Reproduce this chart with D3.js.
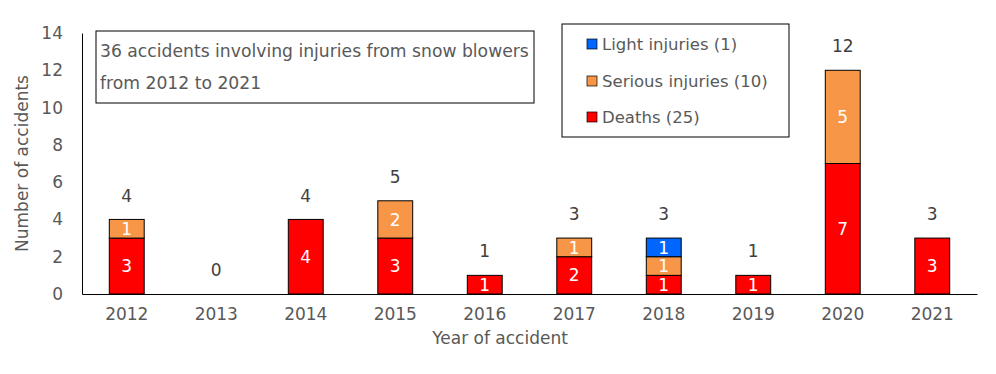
<!DOCTYPE html>
<html>
<head>
<meta charset="utf-8">
<script src="https://cdn.jsdelivr.net/npm/d3@7"></script>
<style>
  body { margin: 0; background: #fff; }
  svg text { font-family: "DejaVu Sans", Verdana, sans-serif; }
</style>
</head>
<body>
<div id="chart"></div>
<script>
var years = ["2012", "2013", "2014", "2015", "2016", "2017", "2018", "2019", "2020", "2021"];
var deaths = [3, 0, 4, 3, 1, 2, 1, 1, 7, 3];
var serious = [1, 0, 0, 2, 0, 1, 1, 0, 5, 0];
var light = [0, 0, 0, 0, 0, 0, 1, 0, 0, 0];
var yTicks = [0, 2, 4, 6, 8, 10, 12, 14];
var seriesNames = ["Deaths (25)", "Serious injuries (10)", "Light injuries (1)"];
var seriesColors = ["#ff0000", "#f79646", "#0066ff"];

var width = 996, height = 374;
var margin = { left: 82, right: 19, top: 33, bottom: 80 };
var fs = 17;

var svg = d3.select("#chart").append("svg")
  .attr("width", width)
  .attr("height", height);

var x = d3.scaleBand()
  .domain(years)
  .range([margin.left, width - margin.right])
  .paddingInner(0.61)
  .paddingOuter(0.305);

var y = d3.scaleLinear()
  .domain([0, 14])
  .range([height - margin.bottom, margin.top]);

var rows = years.map(function(yr, i) {
  return { year: yr, deaths: deaths[i], serious: serious[i], light: light[i] };
});
var stack = d3.stack().keys(["deaths", "serious", "light"])(rows);

// bars
var layers = svg.selectAll(".layer")
  .data(stack)
  .enter().append("g")
  .attr("fill", function(d, i) { return seriesColors[i]; });

layers.selectAll("rect")
  .data(function(d) { return d.filter(function(p) { return p[1] - p[0] > 0; }); })
  .enter().append("rect")
  .attr("x", function(d) { return x(d.data.year); })
  .attr("y", function(d) { return y(d[1]); })
  .attr("width", x.bandwidth())
  .attr("height", function(d) { return y(d[0]) - y(d[1]); })
  .attr("stroke", "#000")
  .attr("stroke-width", 1);

// values inside segments
layers.selectAll("text")
  .data(function(d) { return d.filter(function(p) { return p[1] - p[0] > 0; }); })
  .enter().append("text")
  .attr("x", function(d) { return x(d.data.year) + x.bandwidth() / 2; })
  .attr("y", function(d) { return (y(d[0]) + y(d[1])) / 2; })
  .attr("dy", "0.36em")
  .attr("text-anchor", "middle")
  .attr("fill", "#fff")
  .attr("font-size", fs)
  .text(function(d) { return d[1] - d[0]; });

// totals
svg.selectAll(".total")
  .data(rows)
  .enter().append("text")
  .attr("x", function(d) { return x(d.year) + x.bandwidth() / 2; })
  .attr("y", function(d) { return y(d.deaths + d.serious + d.light) - 24; })
  .attr("dy", "0.36em")
  .attr("text-anchor", "middle")
  .attr("fill", "#404040")
  .attr("font-size", fs)
  .text(function(d) { return d.deaths + d.serious + d.light; });

// axes
var yAxis = svg.append("g")
  .attr("transform", "translate(" + margin.left + ",0)")
  .call(d3.axisLeft(y).tickValues(yTicks).tickSize(0).tickPadding(19));
yAxis.select(".domain").attr("stroke", "#000");
yAxis.selectAll("text").attr("font-size", fs).attr("fill", "#595959");

var xAxis = svg.append("g")
  .attr("transform", "translate(0," + y(0) + ")")
  .call(d3.axisBottom(x).tickSize(0).tickPadding(14));
xAxis.select(".domain").attr("stroke", "#000");
xAxis.selectAll("text").attr("font-size", fs).attr("fill", "#595959");

svg.append("text")
  .attr("x", 500).attr("y", 338)
  .attr("dy", "0.36em")
  .attr("text-anchor", "middle")
  .attr("font-size", fs).attr("fill", "#595959")
  .text("Year of accident");

svg.append("text")
  .attr("transform", "translate(22," + ((margin.top + y(0)) / 2) + ") rotate(-90)")
  .attr("dy", "0.36em")
  .attr("text-anchor", "middle")
  .attr("font-size", fs).attr("fill", "#595959")
  .text("Number of accidents");

// annotation box
svg.append("rect")
  .attr("x", 96).attr("y", 31).attr("width", 438).attr("height", 72)
  .attr("fill", "#fff").attr("stroke", "#000");
svg.append("text")
  .attr("x", 100).attr("y", 51).attr("dy", "0.36em")
  .attr("font-size", 17.2).attr("fill", "#595959")
  .text("36 accidents involving injuries from snow blowers");
svg.append("text")
  .attr("x", 100).attr("y", 83).attr("dy", "0.36em")
  .attr("font-size", 17.2).attr("fill", "#595959")
  .text("from 2012 to 2021");

// legend
svg.append("rect")
  .attr("x", 562).attr("y", 24).attr("width", 227).attr("height", 113)
  .attr("fill", "#fff").attr("stroke", "#000");
var legendY = [117, 81, 44];
var leg = svg.selectAll(".leg")
  .data(seriesNames)
  .enter().append("g")
  .attr("transform", function(d, i) { return "translate(587," + legendY[i] + ")"; });
leg.append("rect")
  .attr("x", 0).attr("y", -5).attr("width", 10).attr("height", 10)
  .attr("fill", function(d, i) { return seriesColors[i]; })
  .attr("stroke", "#000").attr("stroke-width", 0.7);
leg.append("text")
  .attr("x", 15).attr("dy", "0.36em")
  .attr("font-size", 16.5).attr("fill", "#595959")
  .text(function(d) { return d; });
</script>
</body>
</html>
